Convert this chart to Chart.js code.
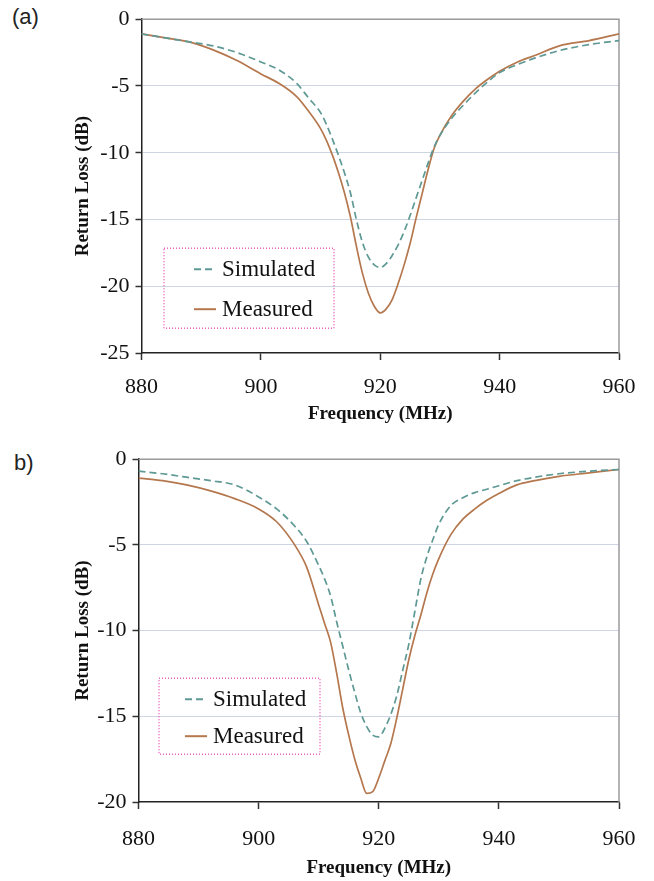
<!DOCTYPE html>
<html>
<head>
<meta charset="utf-8">
<script src="https://cdn.jsdelivr.net/npm/chart.js@4.4.1/dist/chart.umd.min.js"></script>
<style>
body { margin: 0; background: #fff; width: 654px; height: 881px; position: relative; overflow: hidden; }
.box { position: absolute; left: 0; width: 654px; }
.tag { position: absolute; font-family: 'Liberation Sans', Arial, sans-serif; font-size: 22px; color: #222; }
</style>
</head>
<body>
<div class="tag" style="left:12px;top:4px">(a)</div>
<div class="box" style="top:0;height:440px"><canvas id="chartA"></canvas></div>
<div class="tag" style="left:14px;top:450px">b)</div>
<div class="box" style="top:440px;height:441px"><canvas id="chartB"></canvas></div>
<script>
// frequency points (MHz) shared by both plots
const freqs = [880, 884, 888, 892, 896, 900, 903, 906, 908, 910, 911, 912, 913, 914, 915, 916, 917, 918, 919, 920,
    921, 922, 923, 924, 925, 926, 927, 928, 929, 930, 932, 934, 936, 938, 940, 943, 946, 950, 955, 960];

// (a)
const simA = [-1.1, -1.4, -1.7, -2.0, -2.5, -3.2, -3.8, -4.8, -5.9, -7.0, -7.9, -9.0, -10.2, -11.5, -13.0, -15.0, -16.7, -17.8, -18.4, -18.6,
    -18.3, -17.7, -16.9, -15.9, -14.7, -13.4, -12.1, -10.8, -9.6, -8.7, -7.4, -6.4, -5.5, -4.7, -4.0, -3.4, -2.9, -2.35, -1.9, -1.6];
const measA = [-1.1, -1.4, -1.7, -2.3, -3.1, -4.1, -4.8, -5.8, -6.9, -8.2, -9.1, -10.2, -11.5, -13.0, -14.8, -17.0, -19.0, -20.5, -21.5, -22.0,
    -21.7, -21.0, -19.8, -18.4, -16.8, -14.9, -13.1, -11.3, -9.7, -8.7, -7.2, -6.1, -5.2, -4.5, -3.9, -3.2, -2.7, -2.0, -1.6, -1.1];

// (b)
const simB = [-0.7, -0.85, -1.05, -1.25, -1.5, -2.2, -2.9, -3.9, -4.8, -6.2, -7.0, -8.0, -9.5, -10.9, -12.3, -13.6, -14.8, -15.6, -16.1, -16.2,
    -15.7, -14.9, -13.8, -12.3, -10.8, -8.9, -7.0, -5.7, -4.7, -3.8, -2.7, -2.25, -1.95, -1.75, -1.55, -1.25, -1.05, -0.85, -0.7, -0.6];
const measB = [-1.1, -1.25, -1.5, -1.85, -2.3, -2.9, -3.65, -5.0, -6.3, -8.5, -9.6, -10.7, -12.5, -14.5, -16.1, -17.5, -18.6, -19.5, -19.4, -18.6,
    -17.6, -16.6, -15.1, -13.4, -11.7, -10.3, -9.1, -7.8, -6.7, -5.8, -4.4, -3.5, -2.9, -2.4, -2.0, -1.5, -1.25, -1.0, -0.8, -0.6];

const seriesNames = ['Simulated', 'Measured'];
const xTitle = 'Frequency (MHz)';
const yTitle = 'Return Loss (dB)';

const serif = "'Liberation Serif', 'Times New Roman', Times, serif";

// dotted legend box drawn inside the plot
const legendBox = {
    id: 'legendBox',
    afterDatasetsDraw(chart, args, o) {
        const ctx = chart.ctx;
        const a = chart.chartArea;
        const x = a.left + o.dx, y = a.top + o.dy;
        ctx.save();
        ctx.strokeStyle = '#f060c0';
        ctx.lineWidth = 1.5;
        ctx.setLineDash([1, 2]);
        ctx.strokeRect(x, y, o.w, o.h);
        chart.data.datasets.forEach((ds, i) => {
            const ly = y + o.row0 + i * o.gap;
            ctx.strokeStyle = ds.borderColor;
            ctx.lineWidth = 2;
            ctx.setLineDash(ds.borderDash || []);
            ctx.beginPath();
            ctx.moveTo(x + o.line0, ly);
            ctx.lineTo(x + o.line0 + 22, ly);
            ctx.stroke();
            ctx.fillStyle = '#111';
            ctx.font = 'normal 23px ' + serif;
            ctx.textBaseline = 'middle';
            ctx.fillText(ds.label, x + o.line0 + 28, ly + 1);
        });
        ctx.restore();
    }
};

// grey top and right frame
const frame = {
    id: 'frame',
    beforeDatasetsDraw(chart) {
        const ctx = chart.ctx, a = chart.chartArea;
        ctx.save();
        ctx.strokeStyle = '#9a9a9a';
        ctx.lineWidth = 1.5;
        ctx.beginPath();
        ctx.moveTo(a.left, a.top);
        ctx.lineTo(a.right, a.top);
        ctx.lineTo(a.right, a.bottom);
        ctx.stroke();
        ctx.restore();
    }
};

function makeChart(id, sim, meas, yMin, lay, legendOpts) {
    return new Chart(document.getElementById(id), {
        type: 'line',
        data: {
            labels: freqs,
            datasets: [{
                label: seriesNames[0],
                data: freqs.map((f, i) => ({ x: f, y: sim[i] })),
                borderColor: '#5e9994',
                borderWidth: 1.7,
                borderDash: [7, 4],
                pointRadius: 0,
                cubicInterpolationMode: 'monotone'
            }, {
                label: seriesNames[1],
                data: freqs.map((f, i) => ({ x: f, y: meas[i] })),
                borderColor: '#b5774d',
                borderWidth: 1.7,
                pointRadius: 0,
                cubicInterpolationMode: 'monotone'
            }]
        },
        options: {
            responsive: true,
            maintainAspectRatio: false,
            animation: false,
            layout: { padding: { top: lay.top, right: 35, bottom: lay.bottom, left: lay.left } },
            scales: {
                x: {
                    type: 'linear',
                    min: 880,
                    max: 960,
                    ticks: {
                        stepSize: 20,
                        color: '#111',
                        padding: lay.xpad,
                        font: { family: serif, size: 22, weight: 'normal' }
                    },
                    grid: { drawOnChartArea: false, tickLength: 7, tickColor: '#333', tickWidth: 1.5 },
                    border: { color: '#222', width: 1.5 },
                    title: {
                        display: true,
                        text: xTitle,
                        color: '#111',
                        padding: 0,
                        font: { family: serif, size: 19, weight: 'bold' }
                    },
                    afterFit: s => { s.height = lay.xh; }
                },
                y: {
                    min: yMin,
                    max: 0,
                    ticks: {
                        stepSize: 5,
                        color: '#111',
                        padding: 6,
                        font: { family: serif, size: 22, weight: 'normal' }
                    },
                    grid: {
                        color: c => (c.tick.value < 0 && c.tick.value > yMin) ? '#cdd4e4' : 'rgba(0,0,0,0)',
                        borderDash: [1, 3],
                        tickBorderDash: [],
                        tickColor: '#333',
                        tickWidth: 1.5,
                        tickLength: 6
                    },
                    border: { color: '#222', width: 1.5 },
                    title: {
                        display: true,
                        text: yTitle,
                        color: '#111',
                        padding: 0,
                        font: { family: serif, size: 19, weight: 'bold' }
                    },
                    afterFit: s => { s.width = lay.yw; }
                }
            },
            plugins: {
                legend: { display: false },
                tooltip: { enabled: false },
                legendBox: legendOpts
            }
        },
        plugins: [frame, legendBox]
    });
}

makeChart('chartA', simA, measA, -25,
    { top: 13, bottom: 15, left: 72, xh: 72, yw: 69.5, xpad: 14 },
    { dx: 22.5, dy: 229, w: 170, h: 80, row0: 21, gap: 40, line0: 30 });

makeChart('chartB', simB, measB, -20,
    { top: 18, bottom: 2, left: 72, xh: 77, yw: 66.5, xpad: 17 },
    { dx: 20.5, dy: 219, w: 161, h: 76, row0: 21, gap: 37, line0: 26 });
</script>
</body>
</html>
